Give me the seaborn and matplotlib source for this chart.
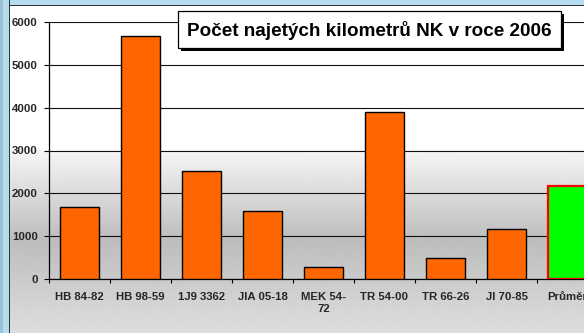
import numpy as np
import pandas as pd
import seaborn as sns
import matplotlib.pyplot as plt
from matplotlib.patches import Rectangle

# Kilometres driven per vehicle in 2006
vehicles = ["HB 84-82", "HB 98-59", "1J9 3362", "JIA 05-18", "MEK 54-\n72",
            "TR 54-00", "TR 66-26", "JI 70-85", "Průměr"]
kilometres = [1680, 5670, 2520, 1590, 270, 3910, 500, 1160, 2165]
y_ticks = [0, 1000, 2000, 3000, 4000, 5000, 6000]
title_text = "Počet najetých kilometrů NK v roce 2006"

bar_fill = ["#ff6600"] * 8 + ["#00ff00"]
bar_edge = ["#000000"] * 8 + ["#ff0000"]

sns.set_theme(style="white")
plt.rcParams["font.family"] = ["Liberation Sans", "DejaVu Sans"]
plt.rcParams["font.weight"] = "bold"

W, H = 584, 333
fig = plt.figure(figsize=(W / 100, H / 100), dpi=100)


def fx(px):
    return px / W


def fy(py):
    return 1 - py / H


# background gradient behind the chart
bg = fig.add_axes([0, 0, 1, 1], zorder=-10)
rows = np.arange(H)
shade = np.interp(rows, [0, 149, 150, 240, 333], [1.0, 1.0, 0.965, 0.74, 0.87])
img = np.repeat(shade[:, None], 4, axis=1)
bg.imshow(img, cmap="gray", vmin=0, vmax=1, aspect="auto",
          extent=[0, W, H, 0], interpolation="bilinear")
bg.set_xlim(0, W)
bg.set_ylim(H, 0)
bg.axis("off")

# frame strips at the left and top
fig.patches.append(Rectangle((0, 0), fx(9), 1, transform=fig.transFigure,
                             facecolor="#b5ddf2", edgecolor="none", zorder=-5))
fig.patches.append(Rectangle((0, 0), fx(2.5), 1, transform=fig.transFigure,
                             facecolor="#9cc0d4", edgecolor="none", zorder=-5))
fig.patches.append(Rectangle((fx(9), 0), fx(1.2), 1, transform=fig.transFigure,
                             facecolor="#333333", edgecolor="none", zorder=-5))
fig.patches.append(Rectangle((fx(10), fy(5)), 1, fy(0) - fy(5), transform=fig.transFigure,
                             facecolor="#b5ddf2", edgecolor="none", zorder=-5))
fig.patches.append(Rectangle((fx(10), fy(6)), 1, fy(5) - fy(6), transform=fig.transFigure,
                             facecolor="#333333", edgecolor="none", zorder=-5))

# plot area
ax = fig.add_axes([fx(49), fy(279), fx(598) - fx(49), fy(22) - fy(279)])
ax.set_facecolor("none")

df = pd.DataFrame({"vehicle": vehicles, "km": kilometres})
sns.barplot(data=df, x="vehicle", y="km", hue="vehicle", palette=bar_fill,
            saturation=1, legend=False, width=0.655, ax=ax, zorder=3)
for patch, ec in zip(ax.patches, bar_edge):
    patch.set_edgecolor(ec)
    patch.set_linewidth(1.0 if ec == "#000000" else 1.6)

ax.set_xlim(-0.5, len(vehicles) - 0.5)
ax.set_ylim(0, 6000)
ax.set_yticks(y_ticks)
ax.set_yticklabels([str(v) for v in y_ticks], fontsize=8.2, fontweight="bold")
ax.grid(axis="y", color="#111111", linewidth=0.8, zorder=0)
ax.set_axisbelow(True)

# category labels at the centres, tick marks at the boundaries
ax.set_xticks(np.arange(-0.5, len(vehicles), 1.0))
ax.set_xticklabels([])
ax.set_xticks(np.arange(len(vehicles)), minor=True)
ax.set_xticklabels(vehicles, minor=True, fontsize=8.2, fontweight="bold",
                   linespacing=1.3, va="top")
ax.tick_params(axis="x", which="major", direction="out", length=3.2, width=0.8,
               color="black", bottom=True)
ax.tick_params(axis="x", which="minor", length=0, pad=9)
ax.tick_params(axis="y", direction="out", length=3.6, width=0.8, color="black",
               left=True, pad=4.5)
ax.set_xlabel("")
ax.set_ylabel("")
for side in ("top", "right"):
    ax.spines[side].set_visible(False)
for side in ("left", "bottom"):
    ax.spines[side].set_color("black")
    ax.spines[side].set_linewidth(0.9)

# title box with drop shadow
bx0, by0, bx1, by1 = 178, 11, 561, 48
fig.patches.append(Rectangle((fx(bx0 + 3), fy(by1 + 3)), fx(bx1) - fx(bx0),
                             fy(by0) - fy(by1), transform=fig.transFigure,
                             facecolor="black", edgecolor="none", zorder=10))
fig.patches.append(Rectangle((fx(bx0), fy(by1)), fx(bx1) - fx(bx0),
                             fy(by0) - fy(by1), transform=fig.transFigure,
                             facecolor="white", edgecolor="black", linewidth=0.9,
                             zorder=11))
fig.text(fx((bx0 + bx1) / 2), fy((by0 + by1) / 2 + 1), title_text,
         ha="center", va="center", fontsize=13.6, fontweight="bold",
         color="black", zorder=12)

fig.savefig("out.png", dpi=100)
